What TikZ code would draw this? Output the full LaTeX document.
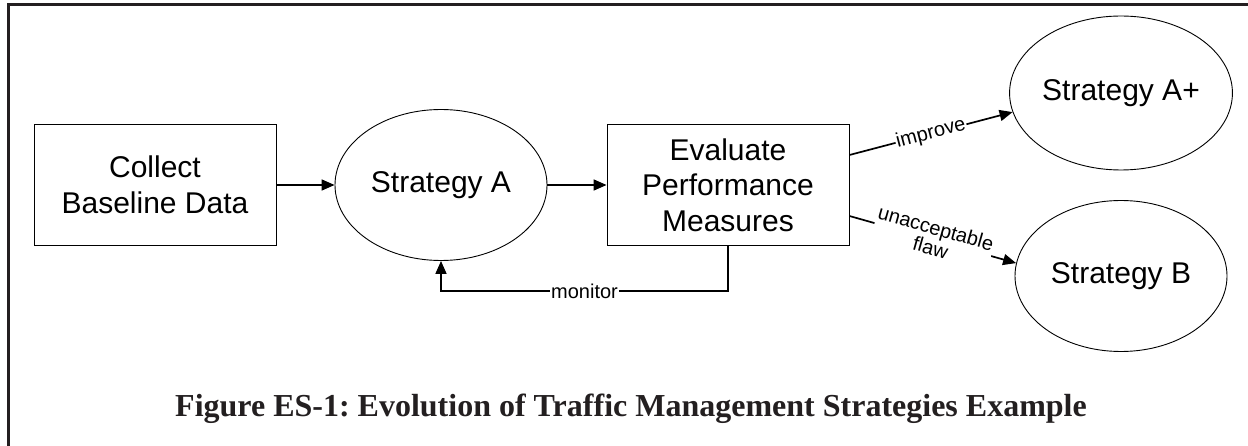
\documentclass[tikz,border=0pt]{standalone}
\usepackage{fontspec}
\setmainfont{Liberation Serif}
\newfontfamily\diagfont{Liberation Sans}
\usetikzlibrary{shapes.geometric,arrows.meta,calc}
\definecolor{ink}{HTML}{231F20}
\frenchspacing
\tikzset{
  procbox/.style={draw, line width=0.9pt, minimum width=242pt, minimum height=121pt, inner sep=0pt,
    align=center, font=\diagfont\fontsize{30}{35.5}\selectfont},
  stratell/.style={draw, ellipse, line width=0.9pt, minimum width=212pt, minimum height=151pt, inner sep=0pt,
    align=center, font=\diagfont\fontsize{30}{35.5}\selectfont},
  flow/.style={line width=1.7pt, -{Triangle[length=13pt,width=11pt]}},
  edgelbl/.style={fill=white, inner sep=1pt, align=center, font=\diagfont\fontsize{20}{20}\selectfont},
}
\begin{document}
\begin{tikzpicture}[x=1pt,y=-1pt]
  \useasboundingbox (0,0) rectangle (1248,446);
  % open frame: top and left sides only
  \draw[ink, line width=3pt] (8,446) -- (8,5) -- (1248,5);

  \node[procbox] (col) at (155,185) {Collect\\Baseline Data};
  \node[stratell] (sa) at (441,185) {Strategy A};
  \node[procbox] (ev) at (728,185) {Evaluate\\Performance\\Measures};
  \node[stratell, minimum height=154pt] (apl) at (1121,93) {Strategy A+};
  \node[stratell] (sb) at (1121,276) {Strategy B};

  \coordinate (mon) at (585,291);
  \path (ev.east) ++(0,-30) coordinate (evhi);
  \path (ev.east) ++(0,31) coordinate (evlo);

  \draw[flow] (col) -- (sa);
  \draw[flow] (sa) -- (ev);
  \draw[flow] (ev.south) -- (ev.south |- mon) -- node[edgelbl]{monitor} (sa.south |- mon) -- (sa.south);
  \draw[flow] (evhi) -- node[edgelbl, sloped]{improve} (apl.190);
  \draw[flow] (evlo) -- node[edgelbl, sloped, yshift=2pt]{unacceptable\\flaw} (sb.173);

  \node[ink, anchor=base, font=\bfseries\fontsize{32}{38}\selectfont] (cap) at (631,416)
    {Figure ES-1: Evolution of Traffic Management Strategies Example};
\end{tikzpicture}
\end{document}
